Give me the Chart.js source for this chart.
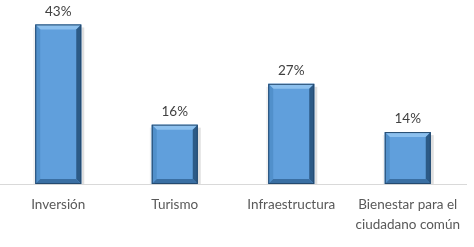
<!DOCTYPE html>
<html>
<head>
<meta charset="utf-8">
<script src="https://cdn.jsdelivr.net/npm/chart.js@4.4.1/dist/chart.umd.min.js"></script>
<style>
  html, body { margin: 0; padding: 0; background: #fff; }
  #wrap { width: 474px; height: 247px; }
</style>
</head>
<body>
<div id="wrap"><canvas id="barChart"></canvas></div>
<script>
// chart data
const categories = ['Inversión', 'Turismo', 'Infraestructura', ['Bienestar para el', 'ciudadano común']];
const percentages = [43, 16, 27, 14];
const yMax = 45;

const FONT = 'Lato, "Open Sans", sans-serif';

// labels over each bar
const valueLabels = {
    id: 'valueLabels',
    afterDatasetsDraw(chart) {
        const ctx = chart.ctx;
        const meta = chart.getDatasetMeta(0);
        ctx.save();
        ctx.font = '13.5px ' + FONT;
        ctx.fillStyle = '#404040';
        ctx.textAlign = 'center';
        ctx.textBaseline = 'middle';
        meta.data.forEach((bar, i) => {
            ctx.fillText(percentages[i] + '%', bar.x, bar.y - 13);
        });
        ctx.restore();
    }
};

// bevel look on the bars (edges from each bar element)
const bevel = {
    id: 'bevel',
    beforeDatasetsDraw(chart) {
        // soft shadow to the right
        const ctx = chart.ctx;
        const meta = chart.getDatasetMeta(0);
        ctx.save();
        meta.data.forEach(bar => {
            const l = bar.x - bar.width / 2, r = bar.x + bar.width / 2;
            ctx.fillStyle = 'rgba(0,0,0,0.12)';
            ctx.fillRect(r, bar.y + 3, 3, bar.base - bar.y - 3);
            ctx.fillStyle = 'rgba(0,0,0,0.06)';
            ctx.fillRect(l - 2, bar.y + 3, 2, bar.base - bar.y - 3);
        });
        ctx.restore();
    },
    afterDatasetsDraw(chart) {
        const ctx = chart.ctx;
        const meta = chart.getDatasetMeta(0);
        const b = 5;
        ctx.save();
        meta.data.forEach(bar => {
            const l = bar.x - bar.width / 2, r = bar.x + bar.width / 2;
            const t = bar.y, bt = bar.base;
            // top bevel
            ctx.fillStyle = '#8cc0ee';
            ctx.beginPath();
            ctx.moveTo(l, t); ctx.lineTo(r, t); ctx.lineTo(r - b, t + b); ctx.lineTo(l + b, t + b);
            ctx.closePath(); ctx.fill();
            // left bevel
            ctx.fillStyle = '#5190cb';
            ctx.beginPath();
            ctx.moveTo(l, t); ctx.lineTo(l + b, t + b); ctx.lineTo(l + b, bt - b); ctx.lineTo(l, bt);
            ctx.closePath(); ctx.fill();
            // right bevel
            ctx.fillStyle = '#2c5a86';
            ctx.beginPath();
            ctx.moveTo(r, t); ctx.lineTo(r - b, t + b); ctx.lineTo(r - b, bt - b); ctx.lineTo(r, bt);
            ctx.closePath(); ctx.fill();
            // bottom bevel
            ctx.fillStyle = '#3a6fa3';
            ctx.beginPath();
            ctx.moveTo(l, bt); ctx.lineTo(l + b, bt - b); ctx.lineTo(r - b, bt - b); ctx.lineTo(r, bt);
            ctx.closePath(); ctx.fill();
            // dark outline
            ctx.strokeStyle = '#24496e';
            ctx.lineWidth = 1;
            ctx.strokeRect(l + 0.5, t + 0.5, bar.width - 1, bt - t - 1);
        });
        ctx.restore();
    }
};

const ctx = document.getElementById('barChart').getContext('2d');
const barChart = new Chart(ctx, {
    type: 'bar',
    data: {
        labels: categories,
        datasets: [{
            data: percentages,
            backgroundColor: '#609fdc',
            borderWidth: 0,
            barPercentage: 0.395,
            categoryPercentage: 1
        }]
    },
    options: {
        responsive: true,
        maintainAspectRatio: false,
        animation: false,
        layout: { padding: { top: 17, right: 8, left: 0, bottom: 1 } },
        plugins: {
            legend: { display: false },
            tooltip: { enabled: false }
        },
        scales: {
            x: {
                grid: { display: false, drawTicks: false },
                border: { display: true, color: '#d9d9d9', width: 1 },
                ticks: {
                    color: '#595959',
                    font: { family: FONT, size: 13.5, lineHeight: 1.48 },
                    padding: 11,
                    maxRotation: 0,
                    autoSkip: false
                }
            },
            y: {
                display: false,
                min: 0,
                max: yMax
            }
        }
    },
    plugins: [bevel, valueLabels]
});
</script>
</body>
</html>
